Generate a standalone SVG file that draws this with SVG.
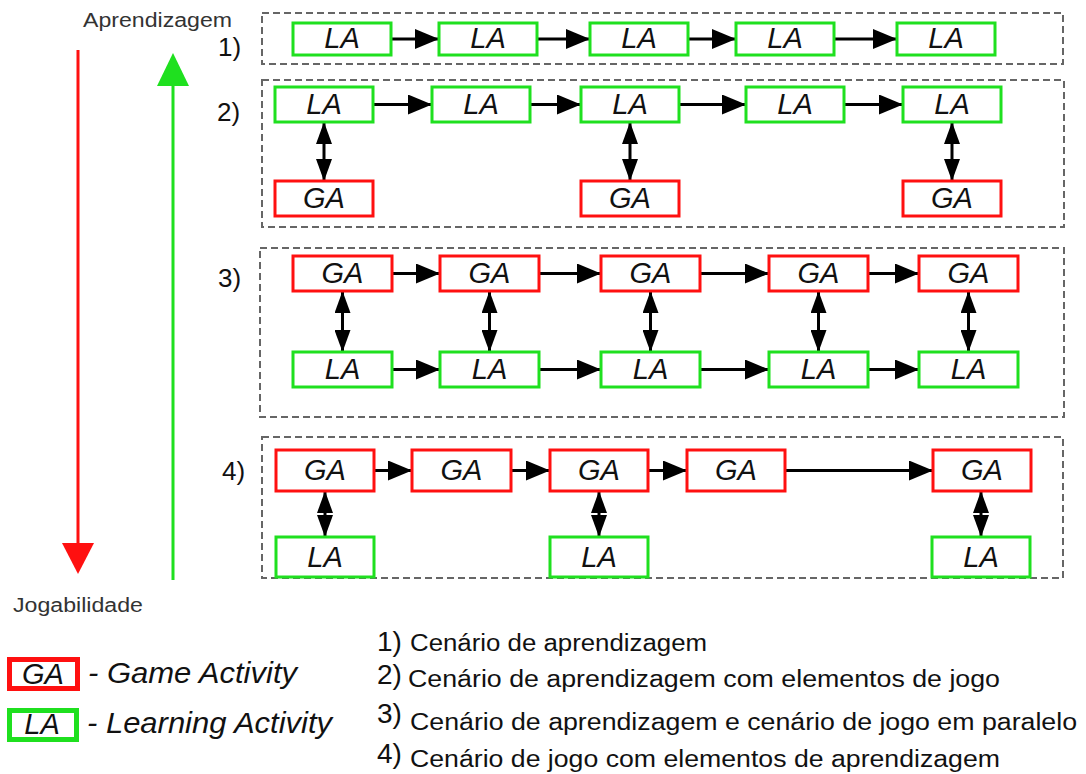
<svg xmlns="http://www.w3.org/2000/svg" width="1086" height="774" viewBox="0 0 1086 774">
<style>
.frame{fill:none;stroke:#666;stroke-width:2;stroke-dasharray:7 4}
.la{fill:#fff;stroke:#1fe01f;stroke-width:3}
.ga{fill:#fff;stroke:#ff1010;stroke-width:3}
.bt{font-family:"Liberation Sans",Arial,sans-serif;font-style:italic;font-size:29px;fill:#111;text-anchor:middle}
.num{font-family:"Liberation Sans",Arial,sans-serif;font-size:26px;fill:#111}
.lbl{font-family:"Liberation Sans",Arial,sans-serif;font-size:20px;fill:#333}
.lst{font-family:"Liberation Sans",Arial,sans-serif;font-size:23px;fill:#111}
.lnum{font-family:"Liberation Sans",Arial,sans-serif;font-size:28px;fill:#111}
.leg{font-family:"Liberation Sans",Arial,sans-serif;font-style:italic;font-size:29px;fill:#111}
.c{stroke:#000;stroke-width:3;fill:none}
.h{marker-end:url(#ah)}
.v{marker-start:url(#av);marker-end:url(#av)}
</style>
<defs>
<marker id="ah" viewBox="0 0 24 20" refX="24" refY="10" markerWidth="24" markerHeight="20" markerUnits="userSpaceOnUse" orient="auto-start-reverse"><path d="M0,0 L24,10 L0,20 Z" fill="#000"/></marker>
<marker id="av" viewBox="0 0 22 16" refX="22" refY="8" markerWidth="22" markerHeight="16" markerUnits="userSpaceOnUse" orient="auto-start-reverse"><path d="M0,0 L22,8 L0,16 Z" fill="#000"/></marker>
</defs>

<g id="axes">
<text class="lbl" x="83" y="27" textLength="149" lengthAdjust="spacingAndGlyphs">Aprendizagem</text>
<text class="lbl" x="13" y="612" textLength="130" lengthAdjust="spacingAndGlyphs">Jogabilidade</text>
<line x1="78" y1="50" x2="78" y2="546" stroke="#ff1010" stroke-width="3"/>
<polygon points="62,543 94,543 78,574" fill="#ff1010"/>
<line x1="173" y1="580" x2="173" y2="84" stroke="#1fe01f" stroke-width="3"/>
<polygon points="157,86 189,86 173,53" fill="#1fe01f"/>
</g>

<g id="frames">
<rect class="frame" x="262" y="13" width="801" height="51"/>
<rect class="frame" x="262" y="80" width="802" height="147"/>
<rect class="frame" x="260" y="248" width="804" height="169"/>
<rect class="frame" x="262" y="437" width="801" height="141"/>
<text class="num" x="218" y="56">1)</text>
<text class="num" x="217" y="121">2)</text>
<text class="num" x="218" y="287">3)</text>
<text class="num" x="222" y="480">4)</text>
</g>

<g id="connectors">
<line class="c h" x1="391" y1="39" x2="439" y2="39"/>
<line class="c h" x1="537" y1="39" x2="590" y2="39"/>
<line class="c h" x1="688" y1="39" x2="736" y2="39"/>
<line class="c h" x1="834" y1="39" x2="897" y2="39"/>

<line class="c h" x1="373" y1="104.5" x2="432" y2="104.5"/>
<line class="c h" x1="530" y1="104.5" x2="581" y2="104.5"/>
<line class="c h" x1="679" y1="104.5" x2="746" y2="104.5"/>
<line class="c h" x1="844" y1="104.5" x2="903" y2="104.5"/>
<line class="c v" x1="324" y1="122" x2="324" y2="181"/>
<line class="c v" x1="630" y1="122" x2="630" y2="181"/>
<line class="c v" x1="952" y1="122" x2="952" y2="181"/>

<line class="c h" x1="392" y1="273.5" x2="440" y2="273.5"/>
<line class="c h" x1="539" y1="273.5" x2="601" y2="273.5"/>
<line class="c h" x1="700" y1="273.5" x2="769" y2="273.5"/>
<line class="c h" x1="868" y1="273.5" x2="919" y2="273.5"/>
<line class="c h" x1="392" y1="369.5" x2="440" y2="369.5"/>
<line class="c h" x1="539" y1="369.5" x2="601" y2="369.5"/>
<line class="c h" x1="700" y1="369.5" x2="769" y2="369.5"/>
<line class="c h" x1="868" y1="369.5" x2="919" y2="369.5"/>
<line class="c v" x1="342.5" y1="291" x2="342.5" y2="352"/>
<line class="c v" x1="489.5" y1="291" x2="489.5" y2="352"/>
<line class="c v" x1="650.5" y1="291" x2="650.5" y2="352"/>
<line class="c v" x1="818.5" y1="291" x2="818.5" y2="352"/>
<line class="c v" x1="968.5" y1="291" x2="968.5" y2="352"/>

<line class="c h" x1="374" y1="470.5" x2="412" y2="470.5"/>
<line class="c h" x1="511" y1="470.5" x2="550" y2="470.5"/>
<line class="c h" x1="648" y1="470.5" x2="687" y2="470.5"/>
<line class="c h" x1="785" y1="470.5" x2="933" y2="470.5"/>
<line class="c v" x1="325" y1="491" x2="325" y2="537"/>
<line class="c v" x1="599" y1="491" x2="599" y2="537"/>
<line class="c v" x1="981" y1="491" x2="981" y2="537"/>
</g>

<g id="row1">
<g id="r1-la1"><rect class="la" x="293" y="23" width="98" height="32"/><text class="bt" x="342" y="48">LA</text></g>
<g id="r1-la2"><rect class="la" x="439" y="23" width="98" height="32"/><text class="bt" x="488" y="48">LA</text></g>
<g id="r1-la3"><rect class="la" x="590" y="23" width="98" height="32"/><text class="bt" x="639" y="48">LA</text></g>
<g id="r1-la4"><rect class="la" x="736" y="23" width="98" height="32"/><text class="bt" x="785" y="48">LA</text></g>
<g id="r1-la5"><rect class="la" x="897" y="23" width="98" height="32"/><text class="bt" x="946" y="48">LA</text></g>
</g>

<g id="row2">
<g id="r2-la1"><rect class="la" x="275" y="87" width="98" height="35"/><text class="bt" x="324" y="114">LA</text></g>
<g id="r2-la2"><rect class="la" x="432" y="87" width="98" height="35"/><text class="bt" x="481" y="114">LA</text></g>
<g id="r2-la3"><rect class="la" x="581" y="87" width="98" height="35"/><text class="bt" x="630" y="114">LA</text></g>
<g id="r2-la4"><rect class="la" x="746" y="87" width="98" height="35"/><text class="bt" x="795" y="114">LA</text></g>
<g id="r2-la5"><rect class="la" x="903" y="87" width="98" height="35"/><text class="bt" x="952" y="114">LA</text></g>
<g id="r2-ga1"><rect class="ga" x="275" y="181" width="98" height="35"/><text class="bt" x="324" y="208">GA</text></g>
<g id="r2-ga2"><rect class="ga" x="581" y="181" width="98" height="35"/><text class="bt" x="630" y="208">GA</text></g>
<g id="r2-ga3"><rect class="ga" x="903" y="181" width="98" height="35"/><text class="bt" x="952" y="208">GA</text></g>
</g>

<g id="row3">
<g id="r3-ga1"><rect class="ga" x="293" y="256" width="99" height="35"/><text class="bt" x="342.5" y="283">GA</text></g>
<g id="r3-ga2"><rect class="ga" x="440" y="256" width="99" height="35"/><text class="bt" x="489.5" y="283">GA</text></g>
<g id="r3-ga3"><rect class="ga" x="601" y="256" width="99" height="35"/><text class="bt" x="650.5" y="283">GA</text></g>
<g id="r3-ga4"><rect class="ga" x="769" y="256" width="99" height="35"/><text class="bt" x="818.5" y="283">GA</text></g>
<g id="r3-ga5"><rect class="ga" x="919" y="256" width="99" height="35"/><text class="bt" x="968.5" y="283">GA</text></g>
<g id="r3-la1"><rect class="la" x="293" y="352" width="99" height="35"/><text class="bt" x="342.5" y="379">LA</text></g>
<g id="r3-la2"><rect class="la" x="440" y="352" width="99" height="35"/><text class="bt" x="489.5" y="379">LA</text></g>
<g id="r3-la3"><rect class="la" x="601" y="352" width="99" height="35"/><text class="bt" x="650.5" y="379">LA</text></g>
<g id="r3-la4"><rect class="la" x="769" y="352" width="99" height="35"/><text class="bt" x="818.5" y="379">LA</text></g>
<g id="r3-la5"><rect class="la" x="919" y="352" width="99" height="35"/><text class="bt" x="968.5" y="379">LA</text></g>
</g>

<g id="row4">
<g id="r4-ga1"><rect class="ga" x="276" y="450" width="98" height="41"/><text class="bt" x="325" y="480">GA</text></g>
<g id="r4-ga2"><rect class="ga" x="412" y="450" width="99" height="41"/><text class="bt" x="461.5" y="480">GA</text></g>
<g id="r4-ga3"><rect class="ga" x="550" y="450" width="98" height="41"/><text class="bt" x="599" y="480">GA</text></g>
<g id="r4-ga4"><rect class="ga" x="687" y="450" width="98" height="41"/><text class="bt" x="736" y="480">GA</text></g>
<g id="r4-ga5"><rect class="ga" x="933" y="450" width="98" height="41"/><text class="bt" x="982" y="480">GA</text></g>
<g id="r4-la1"><rect class="la" x="276" y="537" width="98" height="40"/><text class="bt" x="325" y="567">LA</text></g>
<g id="r4-la2"><rect class="la" x="550" y="537" width="98" height="40"/><text class="bt" x="599" y="567">LA</text></g>
<g id="r4-la3"><rect class="la" x="932" y="537" width="98" height="40"/><text class="bt" x="981" y="567">LA</text></g>
</g>

<g id="legend">
<rect x="9.5" y="659.5" width="68" height="29" fill="#fff" stroke="#ff1010" stroke-width="5"/>
<text class="bt" x="43" y="684" font-size="28">GA</text>
<text class="leg" x="88" y="683" textLength="209" lengthAdjust="spacingAndGlyphs">- Game Activity</text>
<rect x="9.5" y="710.5" width="67" height="29" fill="#fff" stroke="#1fe01f" stroke-width="5"/>
<text class="bt" x="42" y="734" font-size="28">LA</text>
<text class="leg" x="87" y="733" textLength="245" lengthAdjust="spacingAndGlyphs">- Learning Activity</text>
</g>

<g id="list">
<text class="lnum" x="377" y="651">1)</text>
<text class="lst" x="410" y="651" textLength="297" lengthAdjust="spacingAndGlyphs">Cenário de aprendizagem</text>
<text class="lnum" x="377" y="684">2)</text>
<text class="lst" x="408" y="687" textLength="592" lengthAdjust="spacingAndGlyphs">Cenário de aprendizagem com elementos de jogo</text>
<text class="lnum" x="377" y="723">3)</text>
<text class="lst" x="410" y="730" textLength="667" lengthAdjust="spacingAndGlyphs">Cenário de aprendizagem e cenário de jogo em paralelo</text>
<text class="lnum" x="377" y="763">4)</text>
<text class="lst" x="410" y="767" textLength="590" lengthAdjust="spacingAndGlyphs">Cenário de jogo com elementos de aprendizagem</text>
</g>
</svg>
